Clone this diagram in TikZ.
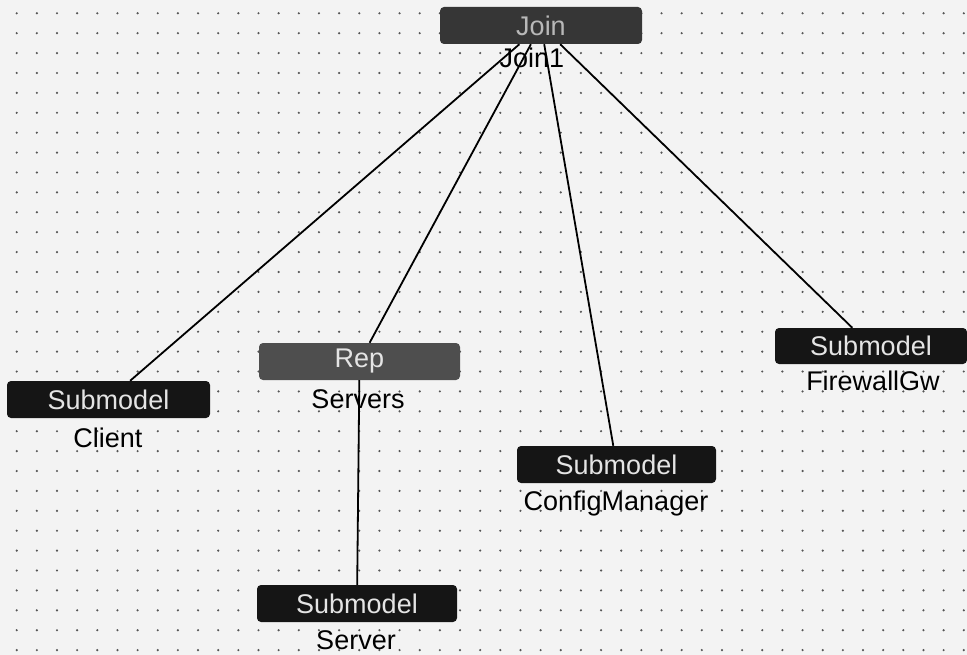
\documentclass[tikz,border=0pt]{standalone}
\usepackage{fontspec}
\setmainfont{Liberation Sans}
\definecolor{paper}{HTML}{F3F3F3}
\definecolor{dotc}{HTML}{555555}
\definecolor{joinfill}{HTML}{363636}
\definecolor{repfill}{HTML}{4E4E4E}
\definecolor{subfill}{HTML}{151515}
\definecolor{boxtext}{HTML}{E4E4E4}
\definecolor{jointext}{HTML}{B8B8B8}
\begin{document}
\begin{tikzpicture}[x=1pt,y=-1pt,
  box/.style={rectangle, rounded corners=4pt, minimum height=37pt, inner sep=0pt,
              text=boxtext, font=\fontsize{27}{30}\selectfont},
  submodel/.style={box, fill=subfill, minimum width=200pt},
  lbl/.style={anchor=base, inner sep=0pt, text=black, font=\fontsize{27}{30}\selectfont},
  link/.style={draw=black, line width=1.8pt}]
\useasboundingbox (0,0) rectangle (967,655);
% dotted grid paper
\fill[paper] (0,0) rectangle (967,655);
\foreach \i in {0,...,47}
  \foreach \j in {0,...,32}
    \fill[dotc] (16.7+20.15*\i, 13.3+19.9*\j) circle (1.2pt);

% nodes
\node[box, fill=joinfill, text=jointext, minimum width=202pt] (join) at (541,25.5) {Join};
\node[box, fill=repfill, minimum width=201pt] (rep) at (359.5,361.5) {Rep};
\node[submodel, minimum width=203pt] (client) at (108.5,399.5) {Submodel};
\node[submodel, minimum width=199pt] (config) at (616.5,464.5) {Submodel};
\node[submodel, minimum width=192pt, minimum height=36pt] (firewall) at (871,346) {Submodel};
\node[submodel] (server) at (357,603.5) {Submodel};

% names under the boxes
\node[lbl] (joinname) at (532,68) {Join1};
\node[lbl] (repname) at (358,408) {Servers};
\node[lbl] (clientname) at (108,447) {Client};
\node[lbl] (configname) at (616,510) {ConfigManager};
\node[lbl] (firewallname) at (873,390) {FirewallGw};
\node[lbl] (servername) at (356,649) {Server};

% connectors
\draw[link] (join) -- (client);
\draw[link] (join) -- (rep);
\draw[link] (join) -- (config);
\draw[link] (join) -- (firewall);
\draw[link] (rep) -- (server);
\end{tikzpicture}
\end{document}
